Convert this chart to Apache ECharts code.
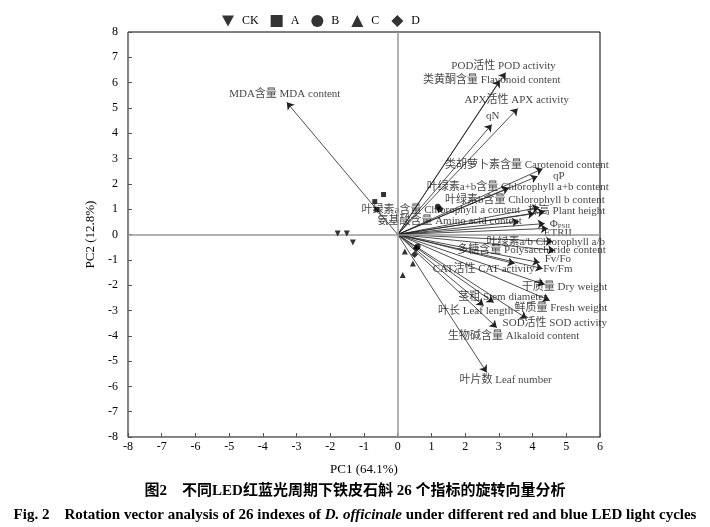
<!DOCTYPE html>
<html>
<head>
<meta charset="utf-8">
<script src="https://cdn.jsdelivr.net/npm/echarts@6/dist/echarts.min.js"></script>
<style>
  html, body { margin: 0; padding: 0; background: #fff; }
  #chart { width: 710px; height: 527px; }
</style>
</head>
<body>
<div id="chart"></div>
<script>
// indicator names (loading vectors)
var names = [
  'MDA含量 MDA content', 'POD活性 POD activity', '类黄酮含量 Flavonoid content',
  'APX活性 APX activity', 'qN', '类胡萝卜素含量 Carotenoid content', 'qP',
  '叶绿素a+b含量 Chlorophyll a+b content', '叶绿素b含量 Chlorophyll b content',
  '叶绿素a含量 Chlorophyll a content', '株高 Plant height', '氨基酸含量 Amino acid content',
  'ΦPSII', 'ETRII', '叶绿素a/b Chlorophyll a/b', '多糖含量 Polysaccharide content',
  'Fv/Fo', 'Fv/Fm', 'CAT活性 CAT activity', '干质量 Dry weight', '茎粗 Stem diameter',
  '鲜质量 Fresh weight', '叶长 Leaf length', 'SOD活性 SOD activity',
  '生物碱含量 Alkaloid content', '叶片数 Leaf number'
];
// arrow tips (PC1, PC2)
var vecPC1 = [-3.29, 3.2, 3.03, 3.56, 2.79, 4.3, 4.15, 3.3, 4.2, 4.06, 4.36, 3.6, 4.36,
  4.45, 4.6, 4.66, 4.21, 4.3, 3.47, 4.36, 2.85, 4.51, 2.55, 3.83, 2.94, 2.64];
var vecPC2 = [5.22, 6.4, 6.09, 4.98, 4.35, 2.6, 2.3, 1.85, 1.07, 0.83, 0.91, 0.51, 0.43,
  0.24, -0.28, -0.63, -1.11, -1.35, -1.15, -1.98, -2.69, -2.61, -2.81, -3.32, -3.68, -5.45];
// where each label text sits (PC1, PC2)
var labPC1 = [-3.35, 3.14, 2.79, 3.53, 2.82, 3.83, 4.78, 3.56, 3.77, 1.28, 5.01, 1.54, 4.81,
  4.75, 4.39, 3.97, 4.75, 4.75, 2.55, 4.95, 3.11, 4.84, 2.31, 4.66, 3.44, 3.2];
var labPC2 = [5.53, 6.64, 6.09, 5.30, 4.66, 2.73, 2.29, 1.86, 1.34, 0.95, 0.91, 0.51, 0.43,
  0.04, -0.32, -0.63, -0.99, -1.38, -1.38, -2.09, -2.49, -2.92, -3.04, -3.52, -4.03, -5.77];

// sample scores per treatment
var groups = ['CK', 'A', 'B', 'C', 'D'];
var ckPts = [[-1.78, 0.04], [-1.51, 0.04], [-1.33, -0.32]];
var aPts = [[-0.42, 1.58], [-0.68, 1.30], [-0.62, 0.99]];
var bPts = [[1.19, 1.1], [1.25, 1.0], [0.59, -0.47]];
var cPts = [[0.21, -0.67], [0.45, -1.15], [0.15, -1.6]];
var dPts = [[0.5, -0.79], [0.55, -0.55]];

var xTicks = [-8, -7, -6, -5, -4, -3, -2, -1, 0, 1, 2, 3, 4, 5, 6];
var yTicks = [-8, -7, -6, -5, -4, -3, -2, -1, 0, 1, 2, 3, 4, 5, 6, 7, 8];

var serif = '"Liberation Serif", "Times New Roman", "Noto Sans CJK SC", serif';
var downTri = 'path://M0,0L10,0L5,9Z';

var chart = echarts.init(document.getElementById('chart'));

var vecData = [];
var labData = [];
for (var i = 0; i < names.length; i++) {
  vecData.push({ coords: [[0, 0], [vecPC1[i], vecPC2[i]]] });
  labData.push({ name: names[i], value: [labPC1[i], labPC2[i]] });
}

var ptSets = [ckPts, aPts, bPts, cPts, dPts];
var ptSymbols = [downTri, 'rect', 'circle', 'triangle', 'diamond'];
var ptSizes = [6, 5, 6, 6, 7];

var scatterSeries = groups.map(function (g, k) {
  return {
    name: g,
    type: 'scatter',
    data: ptSets[k],
    symbol: ptSymbols[k],
    symbolSize: ptSizes[k],
    itemStyle: { color: '#000' },
    z: 5
  };
});

var axisCommon = {
  type: 'value',
  interval: 1,
  axisLine: { onZero: false, lineStyle: { color: '#888', width: 1.2 } },
  axisTick: { inside: true, length: 4, lineStyle: { color: '#555' } },
  splitLine: { show: false },
  nameTextStyle: { fontFamily: serif, fontSize: 13, color: '#000' }
};

var option = {
  backgroundColor: '#fff',
  animation: false,
  title: [{
    text: '图2　不同LED红蓝光周期下铁皮石斛 26 个指标的旋转向量分析',
    left: 'center', top: 479,
    textStyle: { fontFamily: serif, fontSize: 15, fontWeight: 'bold', color: '#000' }
  }, {
    text: '{b|Fig. 2　Rotation vector analysis of 26 indexes of }{i|D. officinale}{b| under different red and blue LED light cycles}',
    left: 'center', top: 503,
    textStyle: {
      rich: {
        b: { fontFamily: serif, fontSize: 15, fontWeight: 'bold', color: '#000' },
        i: { fontFamily: serif, fontSize: 15, fontWeight: 'bold', fontStyle: 'italic', color: '#000' }
      }
    }
  }],
  legend: {
    data: groups.map(function (g, k) {
      return { name: g, icon: ptSymbols[k] };
    }),
    left: 217, top: 10,
    itemWidth: 12, itemHeight: 12, itemGap: 12,
    textStyle: { fontFamily: serif, fontSize: 12, color: '#000', width: 26, padding: [0, 0, 0, 3] }
  },
  grid: {
    left: 128, right: 110, top: 32, bottom: 90,
    show: true, borderColor: '#000', borderWidth: 1
  },
  xAxis: Object.assign({}, axisCommon, {
    min: xTicks[0], max: xTicks[xTicks.length - 1],
    name: 'PC1 (64.1%)', nameLocation: 'middle', nameGap: 26,
    axisLabel: { fontFamily: serif, fontSize: 12, color: '#000', margin: 4 }
  }),
  yAxis: Object.assign({}, axisCommon, {
    min: yTicks[0], max: yTicks[yTicks.length - 1],
    name: 'PC2 (12.8%)', nameLocation: 'middle', nameGap: 27,
    axisLabel: { fontFamily: serif, fontSize: 12, color: '#000', margin: 10 }
  }),
  series: [{
    type: 'lines',
    coordinateSystem: 'cartesian2d',
    data: vecData,
    symbol: ['none', 'arrow'],
    symbolSize: 7,
    lineStyle: { color: '#222', width: 0.8, opacity: 1 },
    z: 3
  }, {
    type: 'scatter',
    data: labData,
    symbolSize: 0,
    silent: true,
    z: 4,
    label: {
      show: true,
      position: 'inside',
      align: 'center',
      verticalAlign: 'middle',
      fontFamily: serif,
      fontSize: 11,
      color: '#111',
      formatter: function (p) {
        if (p.name === 'ΦPSII') return 'Φ{s|PSII}';
        return p.name;
      },
      rich: { s: { fontFamily: serif, fontSize: 7, color: '#111', verticalAlign: 'bottom', padding: [6, 0, 0, 0] } }
    },
    markLine: {
      silent: true,
      symbol: 'none',
      label: { show: false },
      lineStyle: { color: '#999', width: 1.5, type: 'solid' },
      data: [{ xAxis: 0 }, { yAxis: 0 }]
    }
  }].concat(scatterSeries)
};

chart.setOption(option);
</script>
</body>
</html>
